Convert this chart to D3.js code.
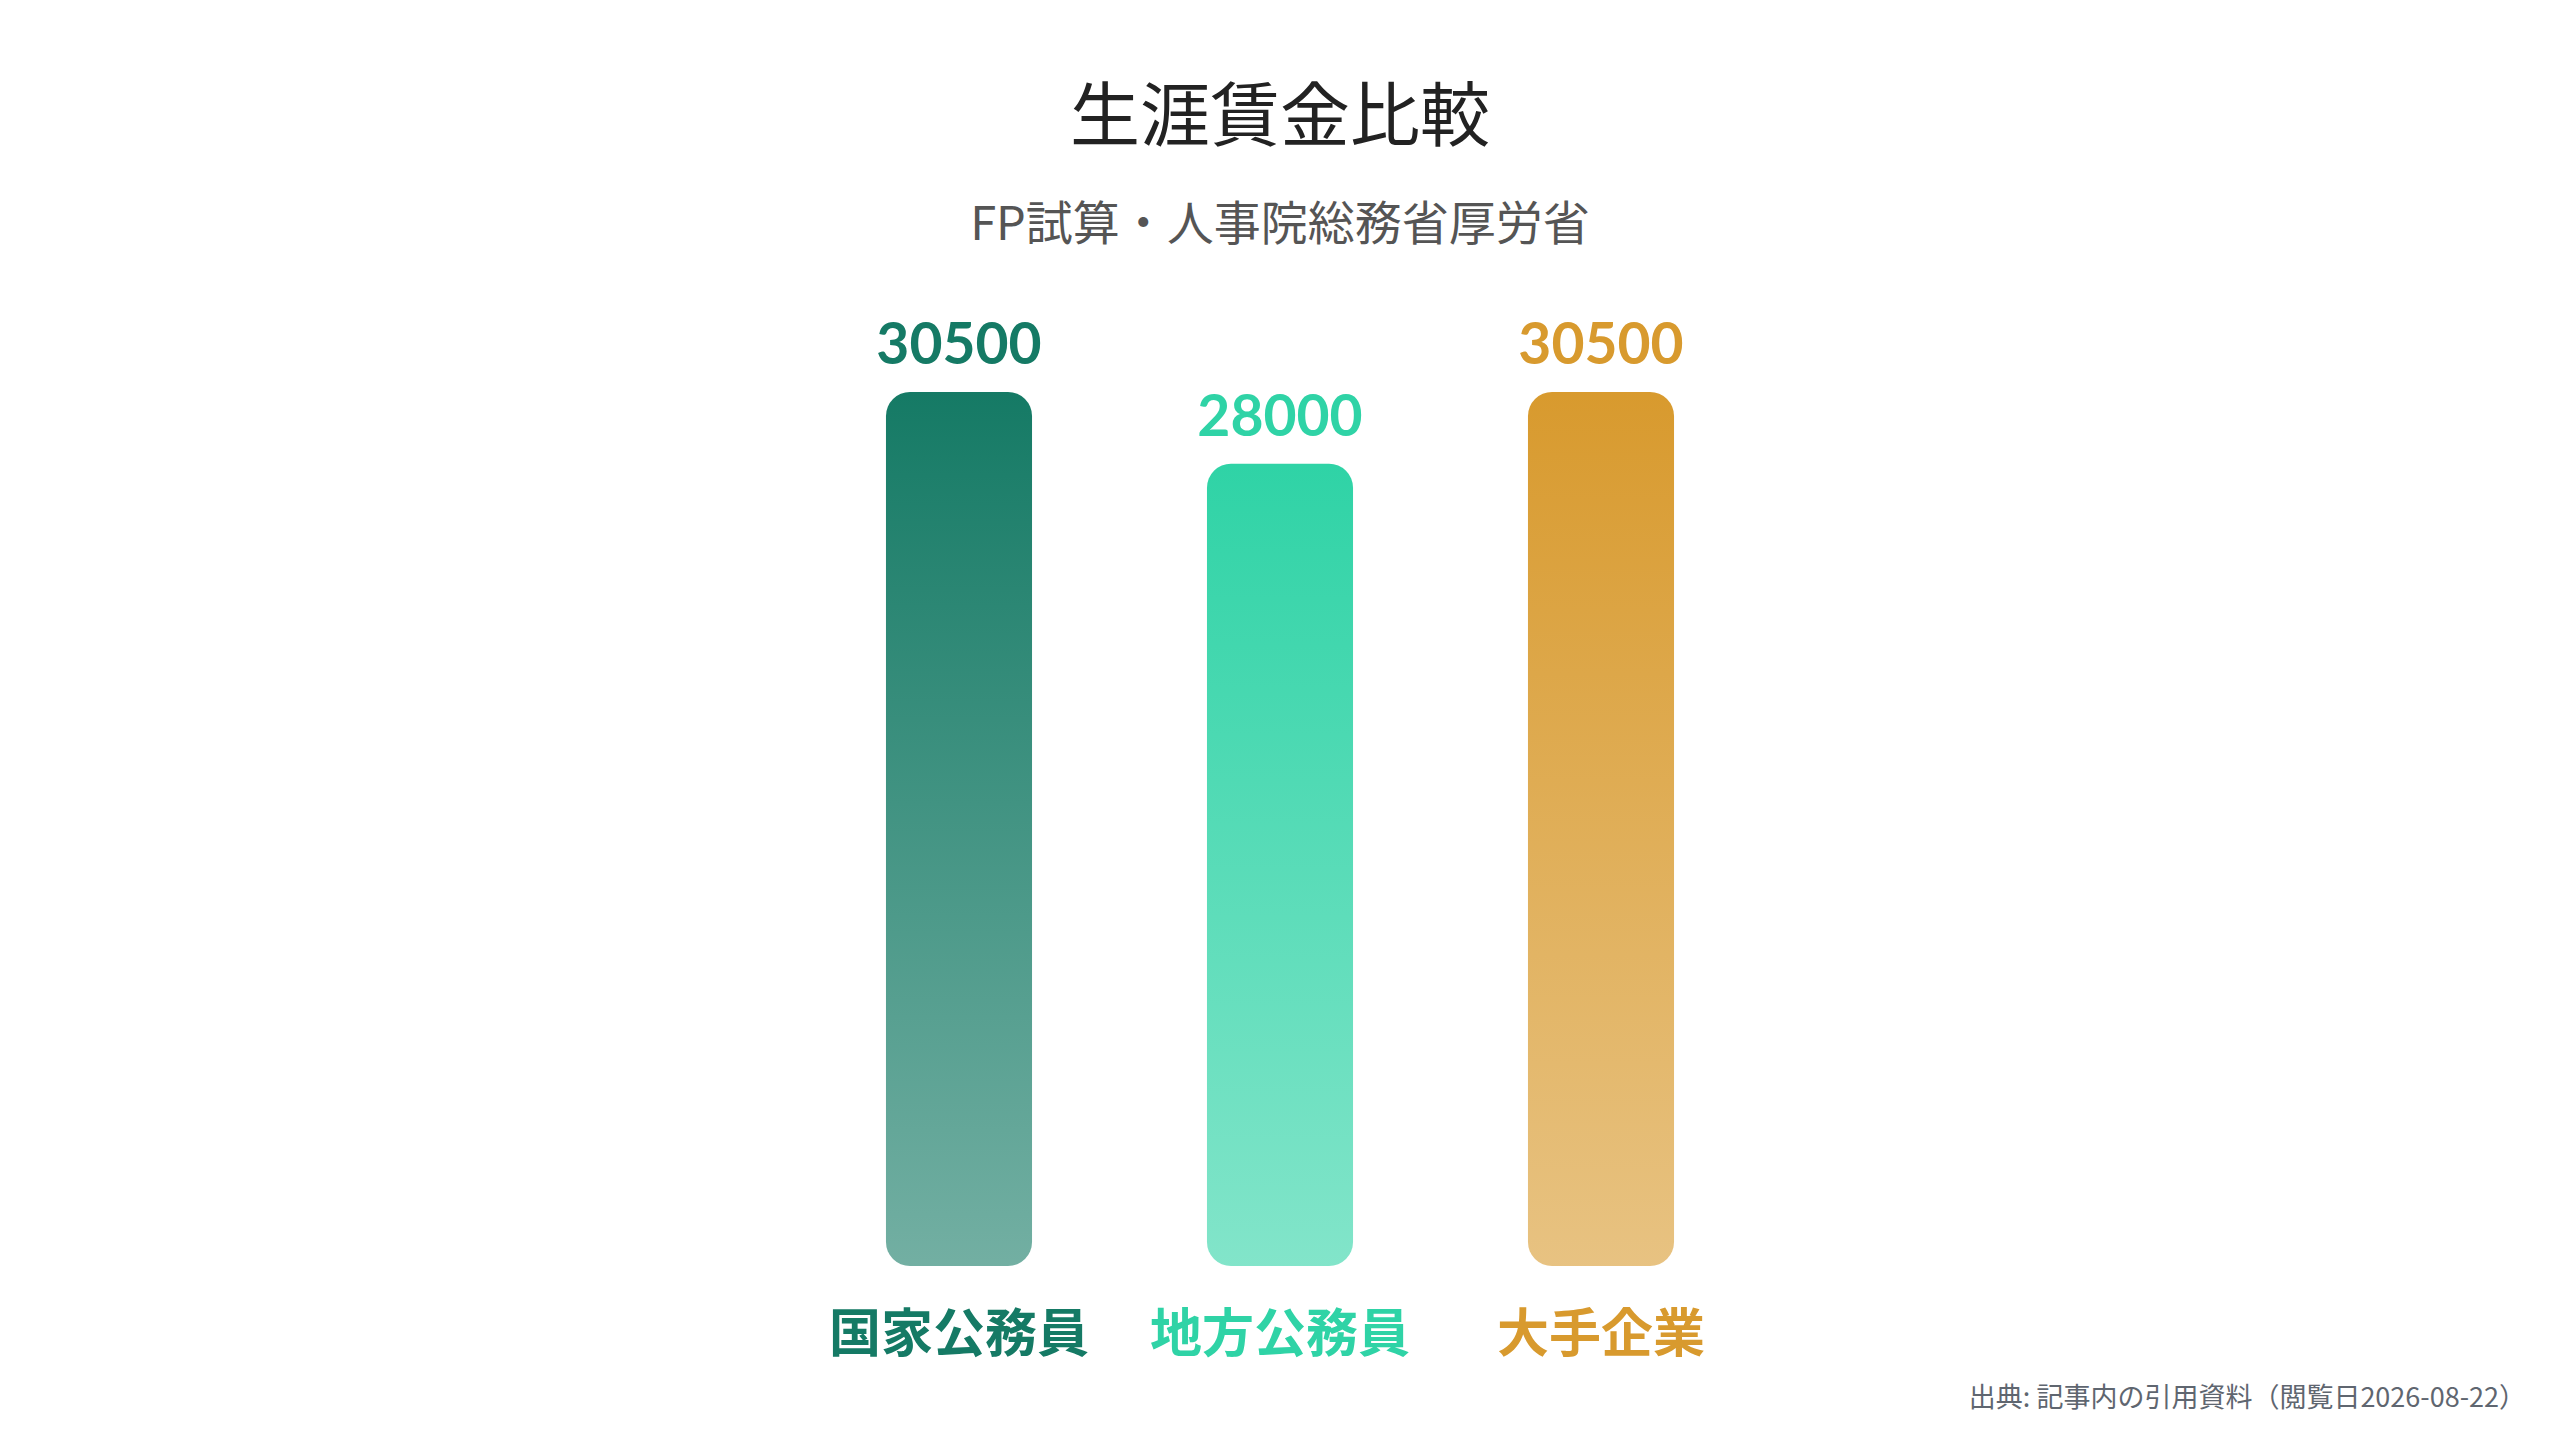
<!DOCTYPE html>
<html lang="ja">
<head>
<meta charset="utf-8">
<title>生涯賃金比較</title>
<script src="https://cdn.jsdelivr.net/npm/d3@7"></script>
<style>
	html, body { margin: 0; padding: 0; background: #ffffff; }
	svg { display: block; }
</style>
</head>
<body>
<div id="chart"></div>
<script>
// 데이터
const categories = ['国家公務員', '地方公務員', '大手企業'];
const values = [30500, 28000, 30500];
const colors = ['#157a65', '#2fd3a6', '#d89a2e'];

const titleText = '生涯賃金比較';
const subtitleText = 'FP試算・人事院総務省厚労省';
const sourceText = '出典: 記事内の引用資料（閲覧日2026-08-22）';

const W = 2560, H = 1440;
const cjk = "'Noto Sans CJK JP', 'Noto Sans', sans-serif";
const num = "Lato, 'Noto Sans', sans-serif";

const svg = d3.select('#chart').append('svg')
	.attr('width', W)
	.attr('height', H)
	.attr('viewBox', '0 0 ' + W + ' ' + H);

// 스케일
const x = d3.scaleBand()
	.domain(categories)
	.range([798.5, 1761.5])
	.paddingInner(0.545)
	.paddingOuter(0.2725);

const y = d3.scaleLinear()
	.domain([0, d3.max(values)])
	.range([1266, 392]);

// 그라데이션 (위 진하게, 아래 연하게)
const defs = svg.append('defs');
colors.forEach(function(c, i) {
	const g = defs.append('linearGradient')
		.attr('id', 'grad' + i)
		.attr('x1', 0).attr('y1', 0)
		.attr('x2', 0).attr('y2', 1);
	g.append('stop').attr('offset', '0%').attr('stop-color', c).attr('stop-opacity', 1);
	g.append('stop').attr('offset', '100%').attr('stop-color', c).attr('stop-opacity', 0.6);
});

// 제목
svg.append('text')
	.attr('x', W / 2)
	.attr('y', 141)
	.attr('text-anchor', 'middle')
	.style('font-family', cjk)
	.style('font-size', '70px')
	.style('font-weight', 400)
	.style('fill', '#222222')
	.text(titleText);

svg.append('text')
	.attr('x', W / 2)
	.attr('y', 240)
	.attr('text-anchor', 'middle')
	.style('font-family', cjk)
	.style('font-size', '47px')
	.style('fill', '#555555')
	.text(subtitleText);

// 막대
const bar = svg.append('g').selectAll('g')
	.data(categories)
	.join('g');

bar.append('rect')
	.attr('x', d => x(d))
	.attr('y', (d, i) => y(values[i]))
	.attr('width', x.bandwidth())
	.attr('height', (d, i) => y(0) - y(values[i]))
	.attr('rx', 24)
	.attr('ry', 24)
	.style('fill', (d, i) => 'url(#grad' + i + ')');

// 값 라벨
bar.append('text')
	.attr('x', d => x(d) + x.bandwidth() / 2)
	.attr('y', (d, i) => y(values[i]) - 28)
	.attr('text-anchor', 'middle')
	.style('font-family', num)
	.style('font-size', '57px')
	.style('font-weight', 'bold')
	.style('fill', (d, i) => colors[i])
	.text((d, i) => values[i]);

// 카테고리 라벨
bar.append('text')
	.attr('x', d => x(d) + x.bandwidth() / 2)
	.attr('y', 1352)
	.attr('text-anchor', 'middle')
	.style('font-family', cjk)
	.style('font-size', '52px')
	.style('font-weight', 'bold')
	.style('fill', (d, i) => colors[i])
	.text(d => d);

// 출처
svg.append('text')
	.attr('x', 2526)
	.attr('y', 1407)
	.attr('text-anchor', 'end')
	.style('font-family', cjk)
	.style('font-size', '27px')
	.style('fill', '#5f6670')
	.text(sourceText);
</script>
</body>
</html>
